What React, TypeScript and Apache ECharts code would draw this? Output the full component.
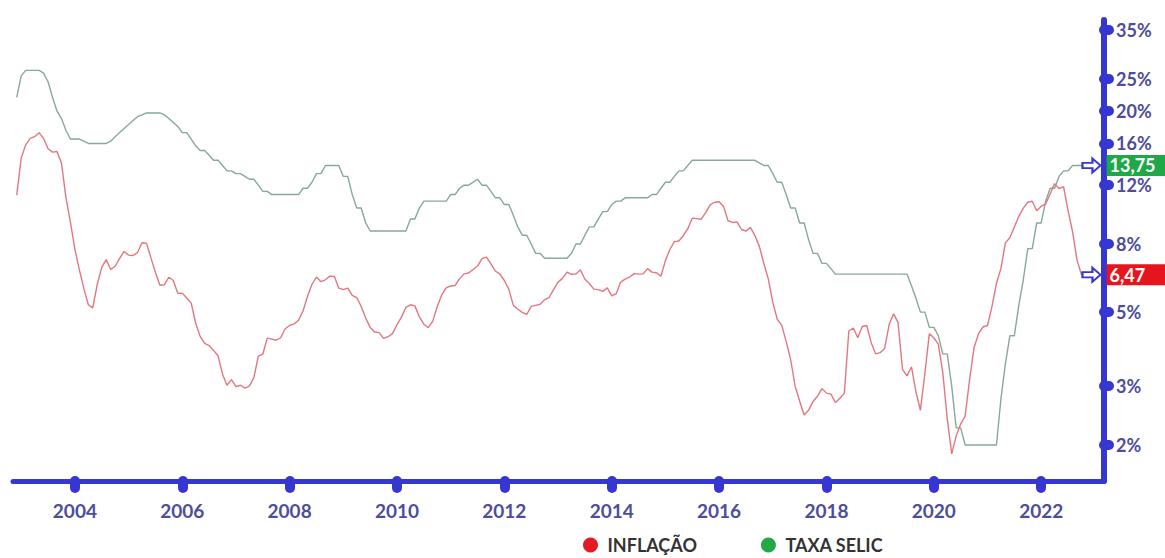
import { useEffect, useRef } from "react";
import * as echarts from "echarts";

// Monthly observations, first point is December 2002, last point October 2022.
const FIRST_YEAR = 2002;
const FIRST_MONTH = 12;

// Taxa Selic (meta, % a.a.) by year
const selic2002 = [22];
const selic2003 = [25.5, 26.5, 26.5, 26.5, 26.5, 26, 24.5, 22, 20, 19, 17.5, 16.5];
const selic2004 = [16.5, 16.5, 16.25, 16, 16, 16, 16, 16, 16.25, 16.75, 17.25, 17.75];
const selic2005 = [18.25, 18.75, 19.25, 19.5, 19.75, 19.75, 19.75, 19.75, 19.5, 19, 18.5, 18];
const selic2006 = [17.25, 17.25, 16.5, 15.75, 15.25, 15.25, 14.75, 14.25, 14.25, 13.75, 13.25, 13.25];
const selic2007 = [13, 13, 12.75, 12.5, 12.5, 12, 11.5, 11.5, 11.25, 11.25, 11.25, 11.25];
const selic2008 = [11.25, 11.25, 11.25, 11.75, 11.75, 12.25, 13, 13, 13.75, 13.75, 13.75, 13.75];
const selic2009 = [12.75, 12.75, 11.25, 10.25, 10.25, 9.25, 8.75, 8.75, 8.75, 8.75, 8.75, 8.75];
const selic2010 = [8.75, 8.75, 8.75, 9.5, 9.5, 10.25, 10.75, 10.75, 10.75, 10.75, 10.75, 10.75];
const selic2011 = [11.25, 11.25, 11.75, 12, 12, 12.25, 12.5, 12, 12, 11.5, 11, 11];
const selic2012 = [10.5, 10.5, 9.75, 9, 8.5, 8.5, 8, 7.5, 7.5, 7.25, 7.25, 7.25];
const selic2013 = [7.25, 7.25, 7.25, 7.5, 8, 8, 8.5, 9, 9, 9.5, 10, 10];
const selic2014 = [10.5, 10.75, 10.75, 11, 11, 11, 11, 11, 11, 11.25, 11.25, 11.75];
const selic2015 = [12.25, 12.25, 12.75, 13.25, 13.25, 13.75, 14.25, 14.25, 14.25, 14.25, 14.25, 14.25];
const selic2016 = [14.25, 14.25, 14.25, 14.25, 14.25, 14.25, 14.25, 14.25, 14.25, 14, 13.75, 13.75];
const selic2017 = [13, 12.25, 12.25, 11.25, 10.25, 10.25, 9.25, 9.25, 8.25, 7.5, 7.5, 7];
const selic2018 = [7, 6.75, 6.5, 6.5, 6.5, 6.5, 6.5, 6.5, 6.5, 6.5, 6.5, 6.5];
const selic2019 = [6.5, 6.5, 6.5, 6.5, 6.5, 6.5, 6.5, 6, 5.5, 5, 5, 4.5];
const selic2020 = [4.5, 4.25, 3.75, 3.75, 3, 2.25, 2.25, 2, 2, 2, 2, 2];
const selic2021 = [2, 2, 2, 2.75, 3.5, 4.25, 4.25, 5.25, 6.25, 7.75, 7.75, 9.25];
const selic2022 = [9.25, 10.75, 11.75, 11.75, 12.75, 13.25, 13.25, 13.75, 13.75, 13.75];

// Inflação (IPCA acumulado em 12 meses, %) by year
const ipca2002 = [11.2];
const ipca2003 = [14.47, 15.85, 16.57, 16.77, 17.24, 16.57, 15.43, 15.07, 15.14, 13.98, 11.02, 9.3];
const ipca2004 = [7.71, 6.69, 5.89, 5.26, 5.15, 6.06, 6.81, 7.18, 6.71, 6.86, 7.24, 7.6];
const ipca2005 = [7.41, 7.39, 7.54, 8.07, 8.05, 7.27, 6.57, 6.02, 6.04, 6.36, 6.22, 5.69];
const ipca2006 = [5.7, 5.51, 5.32, 4.63, 4.23, 4.03, 3.97, 3.84, 3.7, 3.26, 3.02, 3.14];
const ipca2007 = [2.99, 3.02, 2.96, 3.0, 3.18, 3.69, 3.74, 4.18, 4.15, 4.12, 4.19, 4.46];
const ipca2008 = [4.56, 4.61, 4.73, 5.04, 5.58, 6.06, 6.37, 6.17, 6.25, 6.41, 6.39, 5.9];
const ipca2009 = [5.84, 5.9, 5.61, 5.53, 5.2, 4.8, 4.5, 4.36, 4.34, 4.17, 4.22, 4.31];
const ipca2010 = [4.59, 4.83, 5.17, 5.26, 5.22, 4.84, 4.6, 4.49, 4.7, 5.2, 5.63, 5.91];
const ipca2011 = [5.99, 6.01, 6.3, 6.51, 6.55, 6.71, 6.87, 7.23, 7.31, 6.97, 6.64, 6.5];
const ipca2012 = [6.22, 5.85, 5.24, 5.1, 4.99, 4.92, 5.2, 5.24, 5.28, 5.45, 5.53, 5.84];
const ipca2013 = [6.15, 6.31, 6.59, 6.49, 6.5, 6.7, 6.27, 6.09, 5.86, 5.84, 5.77, 5.91];
const ipca2014 = [5.59, 5.68, 6.15, 6.28, 6.37, 6.52, 6.5, 6.51, 6.75, 6.59, 6.56, 6.41];
const ipca2015 = [7.14, 7.7, 8.13, 8.17, 8.47, 8.89, 9.56, 9.53, 9.49, 9.93, 10.48, 10.67];
const ipca2016 = [10.71, 10.36, 9.39, 9.28, 9.32, 8.84, 8.74, 8.97, 8.48, 7.87, 6.99, 6.29];
const ipca2017 = [5.35, 4.76, 4.57, 4.08, 3.6, 3.0, 2.71, 2.46, 2.54, 2.7, 2.8, 2.95];
const ipca2018 = [2.86, 2.84, 2.68, 2.76, 2.86, 4.39, 4.48, 4.19, 4.53, 4.56, 4.05, 3.75];
const ipca2019 = [3.78, 3.89, 4.58, 4.94, 4.66, 3.37, 3.22, 3.43, 2.89, 2.54, 3.27, 4.31];
const ipca2020 = [4.19, 4.01, 3.3, 2.4, 1.88, 2.13, 2.31, 2.44, 3.14, 3.92, 4.31, 4.52];
const ipca2021 = [4.56, 5.2, 6.1, 6.76, 8.06, 8.35, 8.99, 9.68, 10.25, 10.67, 10.74, 10.06];
const ipca2022 = [10.38, 10.54, 11.3, 12.13, 11.73, 11.89, 10.07, 8.73, 7.17, 6.47];

const selic = [
  ...selic2002, ...selic2003, ...selic2004, ...selic2005, ...selic2006, ...selic2007,
  ...selic2008, ...selic2009, ...selic2010, ...selic2011, ...selic2012, ...selic2013,
  ...selic2014, ...selic2015, ...selic2016, ...selic2017, ...selic2018, ...selic2019,
  ...selic2020, ...selic2021, ...selic2022,
];
const ipca = [
  ...ipca2002, ...ipca2003, ...ipca2004, ...ipca2005, ...ipca2006, ...ipca2007,
  ...ipca2008, ...ipca2009, ...ipca2010, ...ipca2011, ...ipca2012, ...ipca2013,
  ...ipca2014, ...ipca2015, ...ipca2016, ...ipca2017, ...ipca2018, ...ipca2019,
  ...ipca2020, ...ipca2021, ...ipca2022,
];

// Axis tick labels
const yearTicks = [2004, 2006, 2008, 2010, 2012, 2014, 2016, 2018, 2020, 2022];
const rateTicks = [2, 3, 5, 8, 12, 16, 20, 25, 35];

const SERIES_NAMES = ["INFLAÇÃO", "TAXA SELIC"];

const AXIS_BLUE = "#3636d0";
const LABEL_BLUE = "#4d4d9c";
const FONT = "Lato, 'Open Sans', sans-serif";

// Position of the i-th monthly observation, in fractional years.
function monthPos(i: number): number {
  const m0 = FIRST_MONTH - 1 + i;
  return FIRST_YEAR + m0 / 12;
}

function toPairs(values: number[]): [number, number][] {
  return values.map((v, i) => [monthPos(i), v]);
}

const arrowPath = "path://M0,5 L10,5 L10,0 L18,8 L10,16 L10,11 L0,11 Z";

function endMarker(values: number[], badgeColor: string) {
  const last = values.length - 1;
  return {
    silent: true,
    symbol: arrowPath,
    symbolSize: [18, 14],
    symbolOffset: [10, 0],
    itemStyle: { color: "#ffffff", borderColor: AXIS_BLUE, borderWidth: 2 },
    label: {
      show: true,
      position: "right",
      distance: 5,
      formatter: (p: any) => Number(p.value).toFixed(2).replace(".", ","),
      backgroundColor: badgeColor,
      color: "#ffffff",
      fontFamily: FONT,
      fontSize: 18,
      fontWeight: "bold",
      padding: [2, 22, 1, 3],
      lineHeight: 18,
    },
    data: [{ coord: [monthPos(last), values[last]], value: values[last] }],
  };
}

export default function App() {
  const ref = useRef<HTMLDivElement>(null);

  useEffect(() => {
    if (!ref.current) return;
    const chart = echarts.init(ref.current, undefined, { renderer: "svg" });

    const tickStyle = {
      show: true,
      length: 7,
      lineStyle: { color: AXIS_BLUE, width: 10, cap: "round" },
    };

    chart.setOption({
      animation: false,
      backgroundColor: "#ffffff",
      grid: { left: 13, right: 61, top: 20, bottom: 77, containLabel: false },
      legend: {
        left: 583,
        top: 535,
        padding: 0,
        icon: "circle",
        itemWidth: 24,
        itemHeight: 15,
        itemGap: 64,
        selectedMode: false,
        textStyle: {
          color: "#333333",
          fontFamily: FONT,
          fontSize: 18,
          fontWeight: "bold",
          lineHeight: 20,
        },
        data: [
          { name: SERIES_NAMES[0], itemStyle: { color: "#e51b24" } },
          { name: SERIES_NAMES[1], itemStyle: { color: "#22a845" } },
        ],
      },
      xAxis: {
        type: "value",
        min: 2002.847,
        max: 2023.17,
        axisLine: { show: true, lineStyle: { color: AXIS_BLUE, width: 5, cap: "round" } },
        axisTick: { ...tickStyle, customValues: yearTicks },
        axisLabel: {
          customValues: yearTicks,
          formatter: (v: number) => String(Math.round(v)),
          color: LABEL_BLUE,
          fontFamily: FONT,
          fontSize: 19,
          fontWeight: "bold",
          margin: 20,
        },
        splitLine: { show: false },
      },
      yAxis: {
        type: "log",
        position: "right",
        min: 1.56,
        max: 37.5,
        axisLine: { show: true, lineStyle: { color: AXIS_BLUE, width: 6, cap: "round" } },
        axisTick: { ...tickStyle, length: 5, customValues: rateTicks },
        axisLabel: {
          customValues: rateTicks,
          formatter: (v: number) => `${v}%`,
          color: LABEL_BLUE,
          fontFamily: FONT,
          fontSize: 18,
          fontWeight: "bold",
          lineHeight: 16,
          margin: 12,
        },
        splitLine: { show: false },
      },
      series: [
        {
          name: SERIES_NAMES[1],
          type: "line",
          data: toPairs(selic),
          showSymbol: false,
          symbol: "none",
          lineStyle: { color: "#86a999", width: 1.4 },
          itemStyle: { color: "#22a845" },
          markPoint: endMarker(selic, "#1fa847"),
          z: 2,
        },
        {
          name: SERIES_NAMES[0],
          type: "line",
          data: toPairs(ipca),
          showSymbol: false,
          symbol: "none",
          lineStyle: { color: "#e2777f", width: 1.4 },
          itemStyle: { color: "#e51b24" },
          markPoint: endMarker(ipca, "#e6141d"),
          z: 3,
        },
      ],
    });

    return () => chart.dispose();
  }, []);

  return (
    <div
      ref={ref}
      style={{ position: "absolute", left: 0, top: 0, width: 1165, height: 558 }}
    />
  );
}
